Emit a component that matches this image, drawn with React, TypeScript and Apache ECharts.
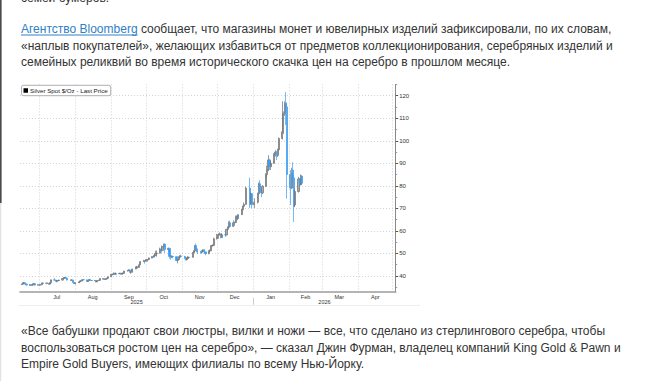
import React, { useEffect, useRef } from 'react';
import * as echarts from 'echarts';

const SERIES_NAME = 'Silver Spot $/Oz - Last Price';

// [date, open, close, low, high]
const jun2025: [string, number, number, number, number][] = [
  ['2025-06-16', 36.2, 36.4, 36.0, 36.6],
  ['2025-06-17', 36.4, 36.9, 36.3, 37.2],
  ['2025-06-18', 36.9, 37.0, 36.6, 37.3],
  ['2025-06-19', 37.0, 36.4, 36.2, 37.0],
  ['2025-06-20', 36.4, 36.0, 35.8, 36.6],
  ['2025-06-23', 36.0, 36.1, 35.6, 36.3],
  ['2025-06-24', 36.1, 35.9, 35.6, 36.2],
  ['2025-06-25', 35.9, 36.1, 35.7, 36.3],
  ['2025-06-26', 36.1, 36.6, 35.9, 36.9],
  ['2025-06-27', 36.6, 36.0, 35.8, 36.7],
  ['2025-06-30', 36.0, 36.1, 35.8, 36.3],
];
const jul2025: [string, number, number, number, number][] = [
  ['2025-07-01', 36.1, 36.0, 35.7, 36.4],
  ['2025-07-02', 36.0, 36.1, 35.8, 36.5],
  ['2025-07-03', 36.1, 36.8, 36.0, 37.0],
  ['2025-07-04', 36.8, 36.9, 36.7, 37.1],
  ['2025-07-07', 36.9, 36.8, 36.4, 37.1],
  ['2025-07-08', 36.8, 36.8, 36.5, 37.0],
  ['2025-07-09', 36.8, 36.4, 36.1, 36.9],
  ['2025-07-10', 36.4, 37.0, 36.3, 37.2],
  ['2025-07-11', 37.0, 38.3, 36.9, 38.4],
  ['2025-07-14', 38.3, 38.2, 37.8, 39.1],
  ['2025-07-15', 38.2, 37.7, 37.5, 38.4],
  ['2025-07-16', 37.7, 37.9, 37.2, 38.1],
  ['2025-07-17', 37.9, 38.0, 37.7, 38.2],
  ['2025-07-18', 38.0, 38.2, 37.9, 38.4],
  ['2025-07-21', 38.2, 38.9, 38.0, 39.1],
  ['2025-07-22', 38.9, 39.3, 38.8, 39.5],
  ['2025-07-23', 39.3, 39.3, 38.9, 39.5],
  ['2025-07-24', 39.3, 39.0, 38.8, 39.5],
  ['2025-07-25', 39.0, 38.2, 38.0, 39.1],
  ['2025-07-28', 38.2, 38.2, 37.9, 38.4],
  ['2025-07-29', 38.2, 38.2, 37.9, 38.5],
  ['2025-07-30', 38.2, 37.2, 37.0, 38.3],
  ['2025-07-31', 37.2, 36.7, 36.4, 37.3],
];
const aug2025: [string, number, number, number, number][] = [
  ['2025-08-01', 36.7, 37.0, 36.2, 37.1],
  ['2025-08-04', 37.0, 37.4, 36.9, 37.5],
  ['2025-08-05', 37.4, 37.8, 37.3, 37.9],
  ['2025-08-06', 37.8, 37.8, 37.6, 38.1],
  ['2025-08-07', 37.8, 38.4, 37.7, 38.5],
  ['2025-08-08', 38.4, 38.3, 38.1, 38.6],
  ['2025-08-11', 38.3, 37.6, 37.5, 38.4],
  ['2025-08-12', 37.6, 37.9, 37.5, 38.0],
  ['2025-08-13', 37.9, 38.5, 37.8, 38.6],
  ['2025-08-14', 38.5, 38.0, 37.8, 38.6],
  ['2025-08-15', 38.0, 38.0, 37.8, 38.2],
  ['2025-08-18', 38.0, 38.0, 37.9, 38.2],
  ['2025-08-19', 38.0, 37.4, 37.2, 38.1],
  ['2025-08-20', 37.4, 38.0, 37.3, 38.1],
  ['2025-08-21', 38.0, 38.1, 37.8, 38.3],
  ['2025-08-22', 38.1, 38.9, 37.9, 39.0],
  ['2025-08-25', 38.9, 38.6, 38.5, 39.0],
  ['2025-08-26', 38.6, 38.6, 38.4, 38.8],
  ['2025-08-27', 38.6, 38.7, 38.4, 38.9],
  ['2025-08-28', 38.7, 39.0, 38.5, 39.2],
  ['2025-08-29', 39.0, 39.7, 38.9, 39.8],
];
const sep2025: [string, number, number, number, number][] = [
  ['2025-09-01', 39.7, 40.7, 39.6, 40.8],
  ['2025-09-02', 40.7, 40.8, 40.3, 41.0],
  ['2025-09-03', 40.8, 41.3, 40.7, 41.5],
  ['2025-09-04', 41.3, 40.8, 40.6, 41.3],
  ['2025-09-05', 40.8, 41.0, 40.6, 41.5],
  ['2025-09-08', 41.0, 41.2, 40.9, 41.4],
  ['2025-09-09', 41.2, 40.8, 40.7, 41.4],
  ['2025-09-10', 40.8, 41.1, 40.8, 41.4],
  ['2025-09-11', 41.1, 41.2, 40.9, 41.6],
  ['2025-09-12', 41.2, 42.2, 41.1, 42.3],
  ['2025-09-15', 42.2, 42.5, 42.0, 42.7],
  ['2025-09-16', 42.5, 42.7, 42.3, 43.0],
  ['2025-09-17', 42.7, 41.7, 41.5, 42.8],
  ['2025-09-18', 41.7, 41.7, 41.0, 41.9],
  ['2025-09-19', 41.7, 43.1, 41.6, 43.2],
  ['2025-09-22', 43.1, 44.0, 43.0, 44.2],
  ['2025-09-23', 44.0, 44.0, 43.6, 44.5],
  ['2025-09-24', 44.0, 43.9, 43.3, 44.3],
  ['2025-09-25', 43.9, 45.0, 43.7, 45.1],
  ['2025-09-26', 45.0, 46.4, 44.9, 46.5],
  ['2025-09-29', 46.4, 46.8, 46.3, 47.2],
  ['2025-09-30', 46.8, 46.6, 45.5, 47.0],
];
const oct2025: [string, number, number, number, number][] = [
  ['2025-10-01', 46.6, 47.2, 46.5, 47.4],
  ['2025-10-02', 47.2, 47.3, 46.4, 47.6],
  ['2025-10-03', 47.3, 48.0, 47.0, 48.2],
  ['2025-10-06', 48.0, 48.5, 47.9, 48.8],
  ['2025-10-07', 48.5, 48.4, 47.9, 48.8],
  ['2025-10-08', 48.4, 49.2, 48.3, 49.6],
  ['2025-10-09', 49.2, 50.0, 48.8, 51.2],
  ['2025-10-10', 50.0, 50.1, 48.6, 51.3],
  ['2025-10-13', 50.1, 52.0, 50.0, 52.6],
  ['2025-10-14', 52.0, 51.4, 50.4, 53.6],
  ['2025-10-15', 51.4, 53.0, 51.2, 53.3],
  ['2025-10-16', 53.0, 54.1, 52.8, 54.3],
  ['2025-10-17', 54.1, 51.8, 50.3, 54.5],
  ['2025-10-20', 51.8, 52.3, 50.9, 52.6],
  ['2025-10-21', 52.3, 48.7, 47.7, 52.4],
  ['2025-10-22', 48.7, 48.5, 47.2, 49.4],
  ['2025-10-23', 48.5, 48.7, 48.0, 49.2],
  ['2025-10-24', 48.7, 48.6, 47.8, 49.0],
  ['2025-10-27', 48.6, 46.9, 46.6, 48.7],
  ['2025-10-28', 46.9, 47.3, 45.6, 47.5],
  ['2025-10-29', 47.3, 48.5, 47.2, 48.7],
  ['2025-10-30', 48.5, 48.9, 47.9, 49.2],
  ['2025-10-31', 48.9, 48.7, 48.1, 49.4],
];
const nov2025: [string, number, number, number, number][] = [
  ['2025-11-03', 48.7, 48.1, 47.5, 48.9],
  ['2025-11-04', 48.1, 47.2, 46.9, 48.2],
  ['2025-11-05', 47.2, 48.0, 47.0, 48.2],
  ['2025-11-06', 48.0, 48.2, 47.8, 48.9],
  ['2025-11-07', 48.2, 48.3, 47.6, 48.6],
  ['2025-11-10', 48.3, 50.4, 48.2, 50.6],
  ['2025-11-11', 50.4, 51.1, 50.2, 51.4],
  ['2025-11-12', 51.1, 53.5, 50.9, 53.7],
  ['2025-11-13', 53.5, 52.0, 51.6, 54.4],
  ['2025-11-14', 52.0, 50.6, 49.8, 52.1],
  ['2025-11-17', 50.6, 50.5, 50.0, 51.2],
  ['2025-11-18', 50.5, 51.1, 49.9, 51.4],
  ['2025-11-19', 51.1, 51.6, 50.8, 51.8],
  ['2025-11-20', 51.6, 50.7, 50.0, 51.8],
  ['2025-11-21', 50.7, 50.0, 49.2, 50.9],
  ['2025-11-24', 50.0, 51.2, 49.6, 51.4],
  ['2025-11-25', 51.2, 51.2, 50.5, 51.8],
  ['2025-11-26', 51.2, 53.5, 51.1, 53.7],
  ['2025-11-27', 53.5, 53.6, 53.0, 54.0],
  ['2025-11-28', 53.6, 56.5, 53.4, 57.0],
];
const dec2025: [string, number, number, number, number][] = [
  ['2025-12-01', 56.5, 57.4, 56.2, 58.7],
  ['2025-12-02', 57.4, 58.4, 56.5, 58.9],
  ['2025-12-03', 58.4, 58.6, 57.9, 59.3],
  ['2025-12-04', 58.6, 57.1, 56.6, 58.8],
  ['2025-12-05', 57.1, 58.3, 57.0, 59.0],
  ['2025-12-08', 58.3, 58.2, 57.3, 58.9],
  ['2025-12-09', 58.2, 60.7, 58.0, 60.9],
  ['2025-12-10', 60.7, 61.7, 60.3, 62.0],
  ['2025-12-11', 61.7, 63.6, 61.5, 64.3],
  ['2025-12-12', 63.6, 62.0, 61.4, 64.6],
  ['2025-12-15', 62.0, 63.6, 61.8, 64.7],
  ['2025-12-16', 63.6, 63.8, 62.2, 64.1],
  ['2025-12-17', 63.8, 66.5, 63.5, 66.8],
  ['2025-12-18', 66.5, 65.5, 64.9, 66.9],
  ['2025-12-19', 65.5, 67.2, 64.8, 67.4],
  ['2025-12-22', 67.2, 69.4, 67.1, 69.9],
  ['2025-12-23', 69.4, 71.0, 69.2, 71.2],
  ['2025-12-24', 71.0, 71.8, 70.6, 72.6],
  ['2025-12-26', 71.8, 79.0, 71.6, 79.7],
  ['2025-12-29', 79.0, 72.0, 70.2, 83.6],
  ['2025-12-30', 72.0, 76.5, 71.5, 77.0],
  ['2025-12-31', 76.5, 71.6, 70.0, 76.8],
];
const jan2026: [string, number, number, number, number][] = [
  ['2026-01-02', 71.6, 72.7, 70.2, 74.5],
  ['2026-01-05', 72.7, 76.5, 72.2, 77.0],
  ['2026-01-06', 76.5, 80.9, 76.2, 81.5],
  ['2026-01-07', 80.9, 78.2, 76.5, 82.5],
  ['2026-01-08', 78.2, 76.9, 75.0, 78.9],
  ['2026-01-09', 76.9, 79.8, 76.3, 80.3],
  ['2026-01-12', 79.8, 85.0, 79.5, 85.6],
  ['2026-01-13', 85.0, 87.0, 83.8, 89.0],
  ['2026-01-14', 87.0, 91.5, 86.5, 93.6],
  ['2026-01-15', 91.5, 88.5, 87.0, 92.0],
  ['2026-01-16', 88.5, 90.0, 87.0, 91.0],
  ['2026-01-19', 90.0, 94.0, 89.8, 94.5],
  ['2026-01-20', 94.0, 95.0, 93.0, 95.8],
  ['2026-01-21', 95.0, 93.5, 91.5, 95.5],
  ['2026-01-22', 93.5, 96.0, 92.8, 96.5],
  ['2026-01-23', 96.0, 101.0, 95.8, 101.5],
  ['2026-01-26', 101.0, 104.0, 100.5, 117.5],
  ['2026-01-27', 104.0, 112.0, 103.0, 113.0],
  ['2026-01-28', 112.0, 116.5, 111.0, 117.5],
  ['2026-01-29', 116.5, 115.0, 107.0, 121.6],
  ['2026-01-30', 115.0, 85.0, 74.3, 117.0],
];
const feb2026: [string, number, number, number, number][] = [
  ['2026-02-02', 85.0, 79.0, 71.5, 87.0],
  ['2026-02-03', 79.0, 85.5, 78.5, 88.0],
  ['2026-02-04', 87.0, 83.5, 81.5, 90.5],
  ['2026-02-05', 83.5, 71.0, 64.0, 84.0],
  ['2026-02-06', 71.5, 77.5, 70.5, 78.5],
  ['2026-02-09', 77.5, 83.0, 77.0, 84.0],
  ['2026-02-10', 83.0, 80.5, 79.8, 83.5],
  ['2026-02-11', 80.5, 84.3, 80.2, 85.0],
  ['2026-02-12', 84.3, 81.1207, 80.5, 84.8],
];

const monthLabels = ['Jul', 'Aug', 'Sep', 'Oct', 'Nov', 'Dec', 'Jan', 'Feb', 'Mar', 'Apr'];
const monthLabelDates = ['2025-07-16', '2025-08-16', '2025-09-16', '2025-10-16', '2025-11-16', '2025-12-16', '2026-01-16', '2026-02-15', '2026-03-16', '2026-04-16'];
const monthStartDates = ['2025-07-01', '2025-08-01', '2025-09-01', '2025-10-01', '2025-11-01', '2025-12-01', '2026-01-01', '2026-02-01', '2026-03-01', '2026-04-01', '2026-05-01'];
const yearLabels = ['2025', '2026'];
const yearBoundary = '2026-01-01';
const yMajorTicks = [40, 50, 60, 70, 80, 90, 100, 110, 120];
const yMinorTicks = [35, 45, 55, 65, 75, 85, 95, 105, 115, 125];
const Y_MIN = 33;
const Y_MAX = 125;
const LAST_PRICE_TEXT = '81.1207';

const topLines = [
  'семей бумеров.',
  'сообщает, что магазины монет и ювелирных изделий зафиксировали, по их словам,',
  '«наплыв покупателей», желающих избавиться от предметов коллекционирования, серебряных изделий и',
  'семейных реликвий во время исторического скачка цен на серебро в прошлом месяце.',
];
const LINK_TEXT = 'Агентство Bloomberg';
const bottomLines = [
  '«Все бабушки продают свои люстры, вилки и ножи — все, что сделано из стерлингового серебра, чтобы',
  'воспользоваться ростом цен на серебро», — сказал Джин Фурман, владелец компаний King Gold & Pawn и',
  'Empire Gold Buyers, имеющих филиалы по всему Нью-Йорку.',
];

function ts(s: string): number {
  const [y, m, d] = s.split('-').map(Number);
  return new Date(y, m - 1, d).getTime();
}

export default function App() {
  const ref = useRef<HTMLDivElement>(null);
  useEffect(() => {
    if (!ref.current) return;
    const chart = echarts.init(ref.current, undefined, { renderer: 'svg' });
    const rows = [...jun2025, ...jul2025, ...aug2025, ...sep2025, ...oct2025, ...nov2025, ...dec2025, ...jan2026, ...feb2026];
    const data = rows.map((r) => [ts(r[0]), r[1], r[2], r[3], r[4]]);
    const lastClose = rows[rows.length - 1][2];

    const xMin = new Date(2025, 5, 14, 10).getTime();
    const xMax = new Date(2026, 4, 3, 14).getTime();
    const jan1 = ts(yearBoundary);
    const yearMid = [(xMin + jan1) / 2, (jan1 + xMax) / 2];
    const monthMid = monthLabelDates.map(ts);
    const monthStarts = monthStartDates.map(ts);

    const FONT = '"Liberation Sans", Arial, sans-serif';
    const FS = 12;
    const textColor = '#333333';
    const canvas = document.createElement('canvas');
    const ctx = canvas.getContext('2d')!;
    ctx.font = `${FS}px "Liberation Sans"`;
    const linkW = ctx.measureText(LINK_TEXT).width;
    const spaceW = ctx.measureText(' ').width;

    const topYs = [-1.8, 29, 45.7, 62.3];
    const bottomYs = [330.7, 347.5, 364.3];
    const TX = 21;

    const graphic: any[] = [];
    graphic.push({ type: 'rect', shape: { x: 0, y: 0, width: 1.6, height: 203 }, style: { fill: '#4a4a4a' }, silent: true });
    graphic.push({ type: 'rect', shape: { x: 0, y: 203, width: 1.2, height: 178 }, style: { fill: '#e2e2e2' }, silent: true });
    graphic.push({ type: 'line', shape: { x1: 18, y1: 305.5, x2: 420, y2: 305.5 }, style: { stroke: '#eeeeee', lineWidth: 1 }, silent: true });
    topLines.forEach((t, i) => {
      if (i === 1) {
        graphic.push({ type: 'text', x: TX, y: topYs[i], style: { text: LINK_TEXT, fill: '#2f80c4', font: `${FS}px ${FONT}`, verticalAlign: 'middle' } });
        graphic.push({ type: 'line', shape: { x1: TX, y1: topYs[i] + 6, x2: TX + linkW, y2: topYs[i] + 6 }, style: { stroke: '#2f80c4', lineWidth: 1 }, silent: true });
        graphic.push({ type: 'text', x: TX + linkW + spaceW, y: topYs[i], style: { text: t, fill: textColor, font: `${FS}px ${FONT}`, verticalAlign: 'middle' } });
      } else {
        graphic.push({ type: 'text', x: TX, y: topYs[i], style: { text: t, fill: textColor, font: `${FS}px ${FONT}`, verticalAlign: 'middle' } });
      }
    });
    bottomLines.forEach((t, i) => {
      graphic.push({ type: 'text', x: TX, y: bottomYs[i], style: { text: t, fill: textColor, font: `${FS}px ${FONT}`, verticalAlign: 'middle' } });
    });

    const dotted = { color: '#c9c9c9', type: [1, 2] as any, width: 0.8 };

    const option: any = {
      animation: false,
      backgroundColor: '#ffffff',
      textStyle: { fontFamily: FONT },
      legend: {
        left: 21.5,
        top: 85.3,
        data: [{ name: SERIES_NAME, icon: 'rect', itemStyle: { color: '#000000', borderWidth: 0 } }],
        itemWidth: 4.5,
        itemHeight: 4.5,
        itemGap: 2,
        padding: [2.2, 3, 2.2, 2],
        borderColor: '#9a9a9a',
        borderWidth: 0.8,
        borderRadius: 2,
        backgroundColor: '#ffffff',
        selectedMode: false,
        textStyle: { fontSize: 6.2, color: '#222222', padding: [0, 0, 0, -3] },
      },
      grid: { left: 20, right: 254.3, top: 84.4, bottom: 89.2 },
      xAxis: [
        {
          type: 'value',
          min: xMin,
          max: xMax,
          position: 'bottom',
          axisLine: { show: true, lineStyle: { color: '#9c9c9c', width: 1.6 } },
          axisTick: { show: false, customValues: monthStarts },
          splitLine: { show: true, lineStyle: dotted },
          axisLabel: {
            customValues: monthMid,
            fontSize: 5.5,
            color: '#333333',
            margin: 2.5,
            hideOverlap: false,
            formatter: (v: number) => {
              const i = monthMid.indexOf(v);
              return i >= 0 ? monthLabels[i] : '';
            },
          },
        },
        {
          type: 'value',
          min: xMin,
          max: xMax,
          position: 'bottom',
          offset: 6,
          axisLine: { show: false },
          axisTick: { show: true, customValues: [jan1], length: 7, lineStyle: { color: '#cccccc', width: 1 } },
          splitLine: { show: false },
          axisLabel: {
            customValues: yearMid,
            fontSize: 5.5,
            color: '#333333',
            margin: 1.5,
            hideOverlap: false,
            formatter: (v: number) => {
              const i = yearMid.indexOf(v);
              return i >= 0 ? yearLabels[i] : '';
            },
          },
        },
      ],
      yAxis: [
        {
          type: 'value',
          position: 'right',
          min: Y_MIN,
          max: Y_MAX,
          axisLine: { show: true, lineStyle: { color: '#8a8a8a', width: 1 } },
          axisTick: { show: true, inside: false, customValues: yMajorTicks, length: 2.5, lineStyle: { color: '#555555', width: 1 } },
          axisLabel: { customValues: yMajorTicks, fontSize: 6, color: '#333333', margin: 3.5 },
          splitLine: { show: true, lineStyle: dotted },
        },
        {
          type: 'value',
          position: 'right',
          min: Y_MIN,
          max: Y_MAX,
          axisLine: { show: false },
          axisTick: { show: true, inside: false, customValues: yMinorTicks, length: 1.5, lineStyle: { color: '#888888', width: 0.8 } },
          axisLabel: { show: false },
          splitLine: { show: false },
        },
      ],
      series: [
        {
          type: 'candlestick',
          name: SERIES_NAME,
          xAxisIndex: 0,
          yAxisIndex: 0,
          z: 5,
          data,
          encode: { x: 0, y: [1, 2, 3, 4] },
          barWidth: 1.6,
          itemStyle: {
            color: '#a8a8a8',
            borderColor: '#6f6f6f',
            color0: '#3a9cf2',
            borderColor0: '#3a9cf2',
            borderWidth: 0.7,
          },
          markLine: {
            silent: true,
            z: 10,
            symbol: ['none', 'none'],
            lineStyle: { opacity: 0 },
            label: {
              show: true,
              position: 'end',
              formatter: LAST_PRICE_TEXT,
              color: '#ffffff',
              backgroundColor: '#111111',
              padding: [1.5, 2, 1, 2],
              fontSize: 6,
              distance: 2,
            },
            data: [{ yAxis: lastClose }],
          },
        },
      ],
      graphic,
    };
    chart.setOption(option);
    return () => chart.dispose();
  }, []);
  return <div ref={ref} style={{ position: 'absolute', left: 0, top: 0, width: 650, height: 381 }} />;
}
